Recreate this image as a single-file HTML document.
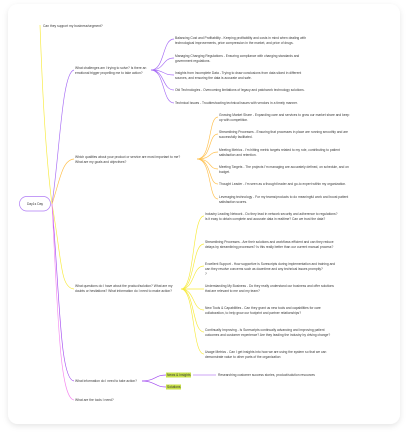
<!DOCTYPE html>
<html><head><meta charset="utf-8"><style>
html,body{margin:0;padding:0;background:#fff;width:408px;height:436px;overflow:hidden}
svg text{font-family:"Liberation Sans",sans-serif;font-size:3.3px;fill:#3a3a3a}
</style></head><body>
<svg width="408" height="436" viewBox="0 0 408 436" xmlns="http://www.w3.org/2000/svg" style="position:absolute;left:0;top:0">
<defs><filter id="sh" x="-10%" y="-10%" width="120%" height="120%"><feDropShadow dx="0" dy="2" stdDeviation="3" flood-color="#000" flood-opacity="0.1"/></filter></defs>
<rect x="8" y="4" width="392" height="420" rx="10" fill="#fff" filter="url(#sh)"/>
<g fill="none" stroke-width="0.65">
<path d="M52 204 C45 150 42 80 40 25" stroke="#f7ea3c"/>
<path d="M52 204 C60 150 62 72 74 70" stroke="#a66bf5"/>
<path d="M52 204 C60 180 62 160 74 159" stroke="#ffc04d"/>
<path d="M52 204 C62 260 60 288 74 289" stroke="#f7ea3c"/>
<path d="M52 204 C60 300 60 380 74 381" stroke="#a34cf0"/>
<path d="M52 204 C58 320 60 398 74 400" stroke="#f58af0"/>
<g stroke="#a66bf5">
<path d="M151 70 C165 70 162 39 174 39"/>
<path d="M151 70 C165 70 162 58 174 58"/>
<path d="M151 70 C165 70 162 75 174 75"/>
<path d="M151 70 C165 70 162 90 174 90"/>
<path d="M151 70 C165 70 162 103 174 103"/>
</g>
<g stroke="#ffc04d">
<path d="M197 159 C212 159 208 117 218 117"/>
<path d="M197 159 C212 159 208 134 218 134"/>
<path d="M197 159 C212 159 208 152 218 152"/>
<path d="M197 159 C212 159 208 169 218 169"/>
<path d="M197 159 C212 159 208 184 218 184"/>
<path d="M197 159 C212 159 208 199 218 199"/>
</g>
<g stroke="#f7ea3c">
<path d="M181 289 C195 289 192 216 204 216"/>
<path d="M181 289 C195 289 192 244 204 244"/>
<path d="M181 289 C195 289 192 266 204 266"/>
<path d="M181 289 C195 289 192 289 204 289"/>
<path d="M181 289 C195 289 192 310 204 310"/>
<path d="M181 289 C195 289 192 332 204 332"/>
<path d="M181 289 C195 289 192 354 204 354"/>
</g>
<path d="M142 381 C155 381 155 375 166 375" stroke="#a34cf0"/>
<path d="M142 381 C155 381 155 387 166 387" stroke="#a34cf0"/>
<path d="M193 375 L216 375" stroke="#d6b8f8" stroke-width="1.2"/>
</g>
<rect x="19.5" y="196.5" width="31" height="14.5" rx="7.2" fill="#fff" stroke="#b07cf5" stroke-width="0.7"/>
<text x="35" y="205" text-anchor="middle">Day1s Day</text>
<rect x="166" y="372.5" width="25" height="5" fill="#c8e04a"/>
<rect x="166" y="384.5" width="15" height="5" fill="#c8e04a"/>
<text x="43" y="27">Can they support my business/segment?</text>
<text x="75" y="69">What challenges am I trying to solve? Is there an</text>
<text x="75" y="74">emotional trigger propelling me to take action?</text>
<text x="75" y="158">Which qualities about your product or service are most important to me?</text>
<text x="75" y="163">What are my goals and objectives?</text>
<text x="75" y="287">What questions do I have about the product/solution? What are my</text>
<text x="75" y="292">doubts or hesitations? What information do I need to make action?</text>
<text x="75" y="382">What information do I need to take action?</text>
<text x="75" y="401">What are the tools I need?</text>
<text x="175" y="39">Balancing Cost and Profitability  - Keeping profitability and costs in mind when dealing with</text>
<text x="175" y="44">technological improvements, price compression in the market, and price of drugs.</text>
<text x="175" y="57">Managing Changing Regulations  - Ensuring compliance with changing standards and</text>
<text x="175" y="62">government regulations.</text>
<text x="175" y="74">Insights from Incomplete Data  - Trying to draw conclusions from data siloed in different</text>
<text x="175" y="79">sources, and ensuring the data is accurate and safe.</text>
<text x="175" y="91">Old Technologies  - Overcoming limitations of legacy and patchwork technology solutions.</text>
<text x="175" y="104">Technical Issues  - Troubleshooting technical issues with vendors in a timely manner.</text>
<text x="219" y="116">Growing Market Share  - Expanding care and services to grow our market share and keep</text>
<text x="219" y="121">up with competition.</text>
<text x="219" y="133">Streamlining Processes  - Ensuring that processes in place are running smoothly and are</text>
<text x="219" y="138">successfully facilitated.</text>
<text x="219" y="151">Meeting Metrics  - I'm hitting metric targets related to my role, contributing to patient</text>
<text x="219" y="156">satisfaction and retention.</text>
<text x="219" y="168">Meeting Targets  - The projects I'm managing are accurately defined, on schedule, and on</text>
<text x="219" y="173">budget.</text>
<text x="219" y="185">Thought Leader  - I'm seen as a thought leader and go-to expert within my organization.</text>
<text x="219" y="198">Leveraging technology  - For my teams/products to do meaningful work and boost patient</text>
<text x="219" y="203">satisfaction scores.</text>
<text x="205" y="215">Industry Leading Network  - Do they lead in network security and adherence to regulations?</text>
<text x="205" y="220">Is it easy to obtain complete and accurate data in realtime? Can we trust the data?</text>
<text x="205" y="243">Streamlining Processes  - Are their solutions and workflows efficient and can they reduce</text>
<text x="205" y="248">delays by streamlining processes? Is this really better than our current manual process?</text>
<text x="205" y="265">Excellent Support  - How supportive is Surescripts during implementation and training and</text>
<text x="205" y="270">can they resolve concerns such as downtime and any technical issues promptly?</text>
<text x="205" y="275">?</text>
<text x="205" y="287">Understanding My Business  - Do they really understand our business and offer solutions</text>
<text x="205" y="292">that are relevant to me and my team?</text>
<text x="205" y="309">New Tools &amp; Capabilities - Can they grant us new tools and capabilities for care</text>
<text x="205" y="314">collaboration, to help grow our footprint and partner relationships?</text>
<text x="205" y="331">Continually Improving - Is Surescripts continually advancing and improving patient</text>
<text x="205" y="336">outcomes and customer experience? Are they leading the industry by driving change?</text>
<text x="205" y="353">Usage Metrics  - Can I get insights into how we are using the system so that we can</text>
<text x="205" y="358">demonstrate value to other parts of the organization</text>
<text x="167" y="376">News &amp; Insights</text>
<text x="167" y="388">Solutions</text>
<text x="218" y="376">Researching customer success stories, product/solution resources</text>
</svg>
</body></html>
